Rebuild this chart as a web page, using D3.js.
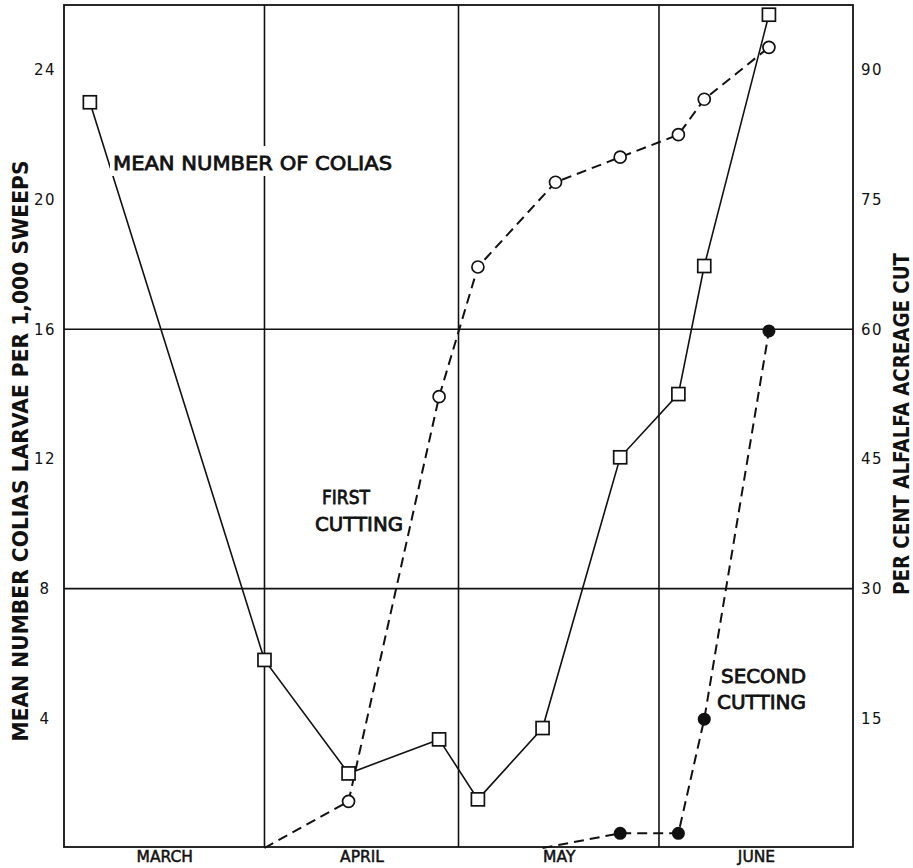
<!DOCTYPE html>
<html>
<head>
<meta charset="utf-8">
<script src="https://cdn.jsdelivr.net/npm/d3@7/dist/d3.min.js"></script>
<style>
  body { margin: 0; background: #fff; }
  svg { display: block; }
  text { font-family: "DejaVu Sans", sans-serif; fill: #111; }
</style>
</head>
<body>
<svg id="chart" width="913" height="868"></svg>
<script>
const months = ['MARCH', 'APRIL', 'MAY', 'JUNE'];
const monthStarts = ['1953-03-01', '1953-04-01', '1953-05-01', '1953-06-01', '1953-07-01'];
const leftTicks = [4, 8, 12, 16, 20, 24];
const rightTicks = [15, 30, 45, 60, 75, 90];
const gridValues = [8, 16];

// mean number of colias larvae per 1,000 sweeps (left axis)
const larvaeDates = ['1953-03-05', '1953-04-01', '1953-04-14', '1953-04-28', '1953-05-04',
                     '1953-05-14', '1953-05-26', '1953-06-04', '1953-06-08', '1953-06-18'];
const larvaeValues = [23.0, 5.8, 2.3, 3.35, 1.5, 3.7, 12.05, 14.0, 17.95, 25.7];

// per cent alfalfa acreage cut (right axis)
const firstCutDates = ['1953-04-01', '1953-04-14', '1953-04-28', '1953-05-04', '1953-05-16',
                       '1953-05-26', '1953-06-04', '1953-06-08', '1953-06-18'];
const firstCutValues = [0, 5.4, 52.2, 67.2, 77.0, 79.9, 82.5, 86.6, 92.6];
const secondCutDates = ['1953-05-14', '1953-05-26', '1953-06-04', '1953-06-08', '1953-06-18'];
const secondCutValues = [0, 1.7, 1.7, 14.9, 59.8];

const parse = d3.timeParse('%Y-%m-%d');
const zip = (dates, values) => dates.map((d, i) => ({date: parse(d), value: values[i]}));

const larvae = zip(larvaeDates, larvaeValues);
const firstCut = zip(firstCutDates, firstCutValues);
const secondCut = zip(secondCutDates, secondCutValues);
const starts = monthStarts.map(parse);

const plotLeft = 64, plotRight = 853, plotTop = 5, plotBottom = 848;

const x = d3.scaleTime().domain([starts[0], starts[starts.length - 1]]).range([plotLeft, plotRight]);
const yLeft = d3.scaleLinear().domain([0, 26]).range([plotBottom, plotTop]);
const yRight = d3.scaleLinear().domain([0, 97.5]).range([plotBottom, plotTop]);

const svg = d3.select('#chart');

// grid: month boundaries and two horizontal rules
svg.append('g')
    .selectAll('line')
    .data(starts.slice(1, -1))
    .enter()
    .append('line')
    .attr('x1', d => x(d)).attr('x2', d => x(d))
    .attr('y1', plotTop).attr('y2', plotBottom - 1)
    .attr('stroke', '#111').attr('stroke-width', 1.6);

svg.append('g')
    .selectAll('line')
    .data(gridValues)
    .enter()
    .append('line')
    .attr('x1', plotLeft).attr('x2', plotRight)
    .attr('y1', d => yLeft(d)).attr('y2', d => yLeft(d))
    .attr('stroke', '#111').attr('stroke-width', 1.6);

svg.append('rect')
    .attr('x', plotLeft).attr('y', plotTop)
    .attr('width', plotRight - plotLeft).attr('height', plotBottom - 1 - plotTop)
    .attr('fill', 'none').attr('stroke', '#111').attr('stroke-width', 1.8);

// axes
const axisLeft = svg.append('g')
    .attr('transform', `translate(${plotLeft},0)`)
    .call(d3.axisLeft(yLeft).tickValues(leftTicks).tickSize(0).tickPadding(19));
axisLeft.select('.domain').remove();
axisLeft.selectAll('text')
    .attr('text-anchor', 'middle')
    .attr('font-size', 15)
    .attr('letter-spacing', 1.5)
    .style('font-family', '"DejaVu Sans", sans-serif');

const axisRight = svg.append('g')
    .attr('transform', `translate(${plotRight},0)`)
    .call(d3.axisRight(yRight).tickValues(rightTicks).tickSize(0).tickPadding(8));
axisRight.select('.domain').remove();
axisRight.selectAll('text')
    .attr('font-size', 15)
    .attr('letter-spacing', 1.5)
    .style('font-family', '"DejaVu Sans", sans-serif');

const mids = starts.slice(0, -1).map((d, i) => new Date((+d + +starts[i + 1]) / 2));
const axisBottom = svg.append('g')
    .attr('transform', `translate(0,${plotBottom - 1})`)
    .call(d3.axisBottom(x).tickValues(mids).tickSize(0).tickPadding(4)
        .tickFormat((d, i) => months[i]));
axisBottom.select('.domain').remove();
axisBottom.selectAll('text')
    .attr('font-size', 15.5)
    .attr('stroke', '#111').attr('stroke-width', 0.5)
    .style('font-family', '"DejaVu Sans", sans-serif');

// axis titles
svg.append('text')
    .attr('transform', 'translate(28,451) rotate(-90)')
    .attr('text-anchor', 'middle')
    .attr('font-size', 21)
    .attr('font-weight', 'bold')
    .attr('textLength', 581).attr('lengthAdjust', 'spacingAndGlyphs')
    .text('MEAN NUMBER COLIAS LARVAE PER 1,000 SWEEPS');

svg.append('text')
    .attr('transform', 'translate(909,424) rotate(-90)')
    .attr('text-anchor', 'middle')
    .attr('font-size', 21)
    .attr('font-weight', 'bold')
    .attr('textLength', 342).attr('lengthAdjust', 'spacingAndGlyphs')
    .text('PER CENT ALFALFA ACREAGE CUT');

// series lines
const lineLeft = d3.line().x(d => x(d.date)).y(d => yLeft(d.value));
const lineRight = d3.line().x(d => x(d.date)).y(d => yRight(d.value));

svg.append('path')
    .datum(larvae)
    .attr('d', lineLeft)
    .attr('fill', 'none').attr('stroke', '#111').attr('stroke-width', 1.6);

[firstCut, secondCut].forEach(series => {
    svg.append('path')
        .datum(series)
        .attr('d', lineRight)
        .attr('fill', 'none').attr('stroke', '#111').attr('stroke-width', 2)
        .attr('stroke-dasharray', '10,6');
});

// text labels inside the plot
const labels = [
    {text: 'MEAN NUMBER OF COLIAS', x: 113, y: 170, len: 279, bg: true},
    {text: 'FIRST', x: 322, y: 504, len: 48},
    {text: 'CUTTING', x: 315, y: 531, len: 88},
    {text: 'SECOND', x: 721, y: 683, len: 85},
    {text: 'CUTTING', x: 717, y: 709, len: 89}
];
labels.filter(d => d.bg).forEach(d => {
    svg.append('rect')
        .attr('x', d.x - 3).attr('y', d.y - 24)
        .attr('width', d.len + 6).attr('height', 30)
        .attr('fill', '#fff');
});
svg.append('g')
    .selectAll('text')
    .data(labels)
    .enter()
    .append('text')
    .attr('x', d => d.x).attr('y', d => d.y)
    .attr('font-size', 20)
    .attr('stroke', '#111').attr('stroke-width', 0.8)
    .attr('textLength', d => d.len).attr('lengthAdjust', 'spacingAndGlyphs')
    .text(d => d.text);

// markers
svg.append('g')
    .selectAll('rect')
    .data(larvae)
    .enter()
    .append('rect')
    .attr('x', d => x(d.date) - 6.5).attr('y', d => yLeft(d.value) - 6.5)
    .attr('width', 13).attr('height', 13)
    .attr('fill', '#fff').attr('stroke', '#111').attr('stroke-width', 1.7);

svg.append('g')
    .selectAll('circle')
    .data(firstCut.filter(d => d.value > 0))
    .enter()
    .append('circle')
    .attr('cx', d => x(d.date)).attr('cy', d => yRight(d.value))
    .attr('r', 6)
    .attr('fill', '#fff').attr('stroke', '#111').attr('stroke-width', 1.7);

svg.append('g')
    .selectAll('circle')
    .data(secondCut.filter(d => d.value > 0))
    .enter()
    .append('circle')
    .attr('cx', d => x(d.date)).attr('cy', d => yRight(d.value))
    .attr('r', 6.5)
    .attr('fill', '#111');
</script>
</body>
</html>
